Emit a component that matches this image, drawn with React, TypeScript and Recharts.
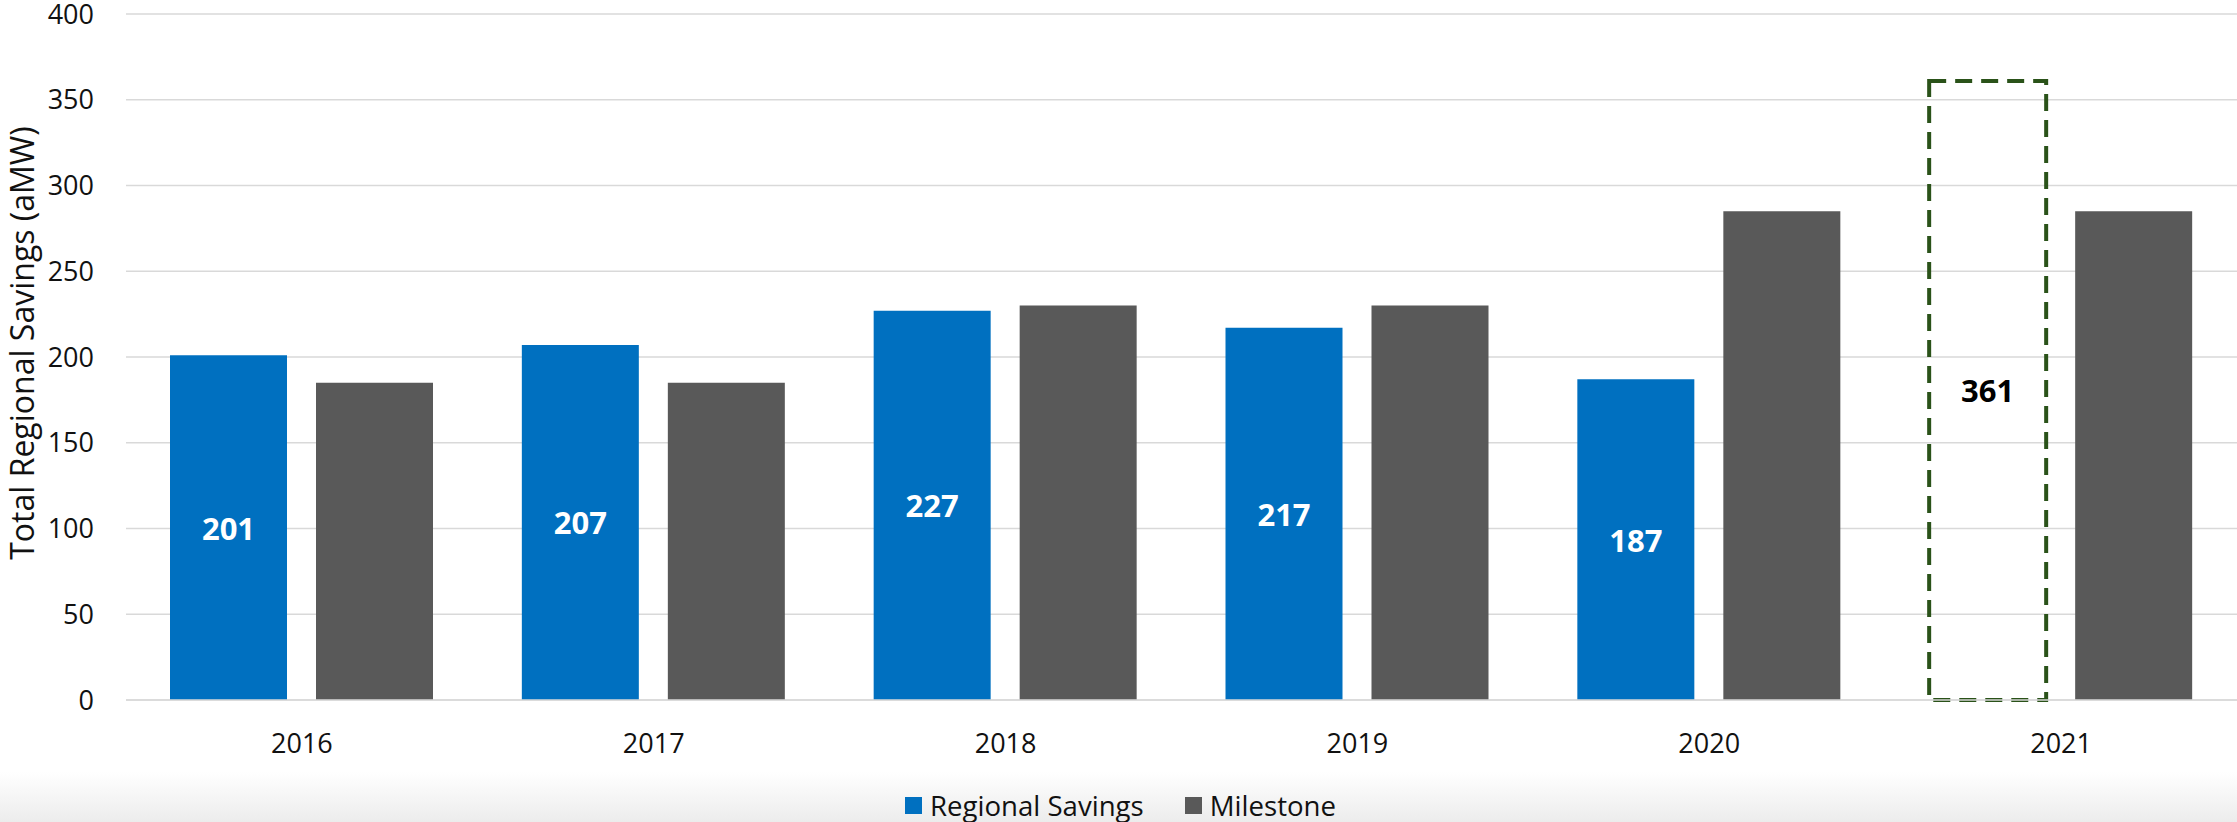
import React from 'react';
import { BarChart, Bar, XAxis, YAxis, CartesianGrid, Cell, LabelList, Legend, Label } from 'recharts';

const years = ['2016', '2017', '2018', '2019', '2020', '2021'];
const regionalSavings = [201, 207, 227, 217, 187, 361];
const isTarget = [false, false, false, false, false, true];
const milestone = [185, 185, 230, 230, 285, 285];
const yTicks = [0, 50, 100, 150, 200, 250, 300, 350, 400];
const legendOrder = ['Regional Savings', 'Milestone'];

const BLUE = '#0070C0';
const GREY = '#595959';
const GREEN = '#2A5219';
const FONT = '"Open Sans", sans-serif';

const data = years.map((year, i) => ({
  year,
  savings: regionalSavings[i],
  milestone: milestone[i],
}));

const renderValue = (props: any) => {
  const { x, y, width, height, value, index } = props;
  const cx = Number(x) + Number(width) / 2;
  const cy = Number(y) + Number(height) / 2;
  return (
    <text
      x={cx}
      y={cy}
      textAnchor="middle"
      dominantBaseline="central"
      fill={isTarget[index] ? '#000000' : '#FFFFFF'}
      fontSize={31}
      fontWeight={700}
      fontFamily={FONT}
    >
      {value}
    </text>
  );
};

const renderYLabel = (props: any) => {
  const vb = props.viewBox || { x: 0, y: 0, width: 0, height: 0 };
  const cx = vb.x + 21;
  const cy = vb.y + vb.height / 2 - 14;
  return (
    <text
      x={cx}
      y={cy}
      transform={`rotate(-90 ${cx} ${cy})`}
      textAnchor="middle"
      dominantBaseline="central"
      fill="#111111"
      fontSize={32}
      fontFamily={FONT}
    >
      Total Regional Savings (aMW)
    </text>
  );
};

const renderLegend = (props: any) => {
  const payload = [...(props.payload || [])].sort(
    (a: any, b: any) => legendOrder.indexOf(a.value) - legendOrder.indexOf(b.value)
  );
  return (
    <div
      style={{
        boxSizing: 'border-box',
        height: 62,
        paddingTop: 28,
        paddingLeft: 4,
        display: 'flex',
        justifyContent: 'center',
        alignItems: 'center',
        fontFamily: FONT,
        fontSize: 27.6,
        color: '#111111',
      }}
    >
      {payload.map((entry: any, i: number) => (
        <div
          key={i}
          style={{ display: 'flex', alignItems: 'center', marginLeft: i === 0 ? 0 : 41 }}
        >
          <span
            style={{
              display: 'inline-block',
              width: 17,
              height: 17,
              background: entry.color,
              marginRight: 8,
            }}
          />
          <span style={{ lineHeight: '34px' }}>{entry.value}</span>
        </div>
      ))}
    </div>
  );
};

export default function App() {
  return (
    <div
      style={{
        position: 'absolute',
        left: 0,
        top: 0,
        width: 2237,
        height: 822,
        fontFamily: FONT,
        background: 'linear-gradient(to bottom, #ffffff 0px, #ffffff 772px, #ececec 822px)',
      }}
    >
      <BarChart
        width={2237}
        height={822}
        data={data}
        margin={{ top: 14, right: 0, bottom: 0, left: 0 }}
        barSize={117}
        barGap={29}
      >
        <CartesianGrid horizontal vertical={false} stroke="#D9D9D9" strokeWidth={1.5} />
        <XAxis
          dataKey="year"
          height={60}
          axisLine={{ stroke: '#D9D9D9', strokeWidth: 1.5 }}
          tickLine={false}
          tickMargin={28}
          tick={{ fill: '#111111', fontSize: 27, fontFamily: FONT }}
        />
        <YAxis
          width={126}
          domain={[0, 400]}
          ticks={yTicks}
          interval={0}
          axisLine={false}
          tickLine={false}
          tickMargin={26}
          tick={{ fill: '#111111', fontSize: 27, fontFamily: FONT }}
        >
          <Label content={renderYLabel} />
        </YAxis>
        <Legend
          verticalAlign="bottom"
          align="center"
          itemSorter={null as any}
          wrapperStyle={{ height: 62 }}
          content={renderLegend}
        />
        <Bar dataKey="savings" name="Regional Savings" fill={BLUE} isAnimationActive={false}>
          {data.map((d, i) =>
            isTarget[i] ? (
              <Cell key={d.year} fill="none" stroke={GREEN} strokeWidth={4} strokeDasharray="17 9" />
            ) : (
              <Cell key={d.year} fill={BLUE} />
            )
          )}
          <LabelList dataKey="savings" content={renderValue} />
        </Bar>
        <Bar dataKey="milestone" name="Milestone" fill={GREY} isAnimationActive={false} />
      </BarChart>
    </div>
  );
}
